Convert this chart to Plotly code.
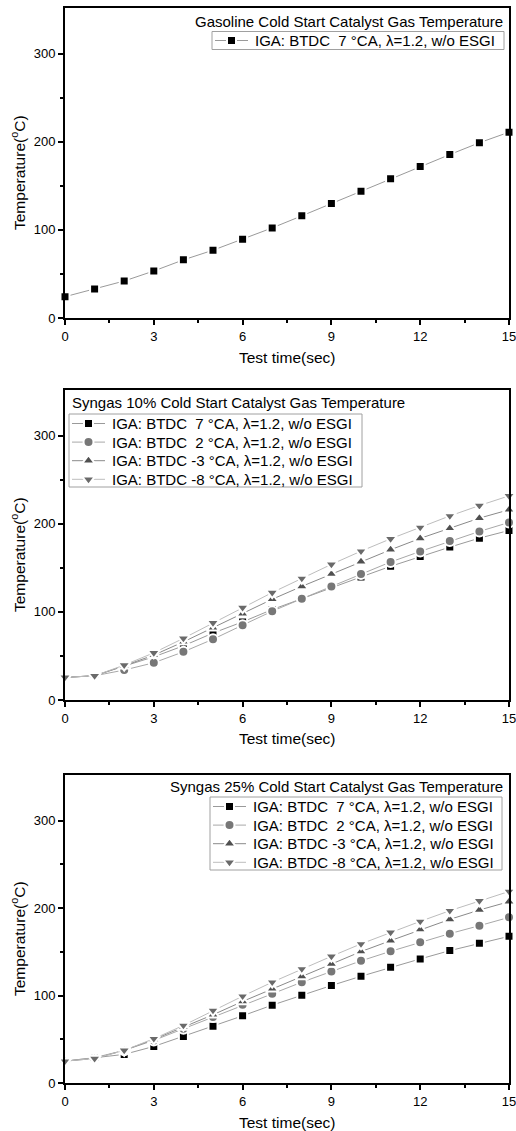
import plotly.graph_objects as go

t = list(range(16))

gas_7 = [24.2, 33, 42, 53.4, 66, 77, 89.4, 102.3, 116, 130, 144, 158, 172, 185.6, 199, 211]

s10_7 = [25.7, 27.5, 38.5, 49, 61.5, 76, 88.7, 102.7, 115, 127.6, 139.7, 151.8, 163, 173.6, 183.8, 192.5]
s10_2 = [25.7, 27.5, 34, 42.3, 54.7, 69, 85, 100.8, 115, 129, 143, 156.7, 168.7, 180.4, 191.4, 201.6]
s10_m3 = [25.7, 27.5, 38.9, 51, 66, 82, 98, 114.4, 129, 143, 157, 170.6, 183.5, 195, 206.5, 216]
s10_m8 = [25.7, 27.5, 39.6, 53.6, 70, 87.6, 105, 122, 138, 154, 169, 183, 196, 209, 220.8, 231.8]

s25_7 = [25, 29, 32.7, 41.8, 53.2, 65, 76.8, 89, 100.4, 111.4, 122, 132.3, 141.8, 151.3, 159.6, 167.6]
s25_2 = [25, 29, 37.3, 48.7, 62, 75.3, 89.4, 102, 115.2, 127.4, 139.6, 150.5, 160.8, 170.7, 179.8, 189.3]
s25_m3 = [25, 28, 37.3, 49.8, 63.9, 78, 93.2, 107.6, 121.7, 136, 150.2, 162.7, 175.3, 187, 197.7, 207.2]
s25_m8 = [25, 28, 37.3, 50.6, 65.8, 82.9, 99.2, 115.2, 130.4, 144.8, 159, 172.2, 184.7, 196.9, 208.3, 218.9]

NB = "\u00a0"
labels = [
    f"IGA: BTDC{NB}{NB}7 °CA, λ=1.2, w/o ESGI",
    f"IGA: BTDC{NB}{NB}2 °CA, λ=1.2, w/o ESGI",
    "IGA: BTDC -3 °CA, λ=1.2, w/o ESGI",
    "IGA: BTDC -8 °CA, λ=1.2, w/o ESGI",
]
titles = [
    "Gasoline Cold Start Catalyst Gas Temperature",
    "Syngas 10% Cold Start Catalyst Gas Temperature",
    "Syngas 25% Cold Start Catalyst Gas Temperature",
]
x_title = "Test time(sec)"
y_title = "Temperature(<sup>o</sup>C)"
x_ticks = [0, 3, 6, 9, 12, 15]
y_ticks = [0, 100, 200, 300]

symbols = ["square", "circle", "triangle-up", "triangle-down"]
mcolors = ["#000000", "#777777", "#505050", "#6a6a6a"]
lcolors = ["#9a9a9a", "#a8a8a8", "#8a8a8a", "#bdbdbd"]
msizes = [9, 10, 11, 11]

W, H = 516, 1131
FONT = "Liberation Sans, Arial, sans-serif"

fig = go.Figure()

panels = [
    dict(series=[gas_7], top=8, bot=318, title=(505, 21.5, "right"),
         box=(212, 504, 31.5, 49.5), row0=40.5),
    dict(series=[s10_7, s10_2, s10_m3, s10_m8], top=390, bot=700, title=(70, 402.5, "left"),
         box=(69, 362, 414, 487), row0=423.5),
    dict(series=[s25_7, s25_2, s25_m3, s25_m8], top=775, bot=1083, title=(505, 786, "right"),
         box=(210, 502, 797, 870), row0=806.5),
]
ROW = 18.6
x0, x1 = 65, 509

# pixel-coordinate overlay axes for legend keys
fig.layout["xaxis4"] = dict(domain=[0, 1], range=[0, W], visible=False, anchor="y4", fixedrange=True)
fig.layout["yaxis4"] = dict(domain=[0, 1], range=[H, 0], visible=False, anchor="x4", fixedrange=True)

for i, p in enumerate(panels):
    ax = "" if i == 0 else str(i + 1)
    top, bot = p["top"], p["bot"]
    for j, ys in enumerate(p["series"]):
        fig.add_trace(go.Scatter(
            x=t, y=ys, mode="lines+markers", name=labels[j],
            line=dict(color=lcolors[j], width=1),
            marker=dict(symbol=symbols[j], size=msizes[j], color=mcolors[j],
                        line=dict(color="white", width=2)),
            xaxis="x" + ax, yaxis="y" + ax, cliponaxis=False, showlegend=False,
        ))
    fig.layout["xaxis" + ax] = dict(
        domain=[x0 / W, x1 / W], range=[0, 15], tickvals=x_ticks,
        showline=True, linecolor="black", linewidth=2, mirror=True,
        ticks="outside", ticklen=5, tickwidth=1.5, tickcolor="black",
        minor=dict(tickvals=[1.5, 4.5, 7.5, 10.5, 13.5], ticks="outside", ticklen=3, tickcolor="black"),
        showgrid=False, zeroline=False, anchor="y" + ax, ticklabeloverflow="allow",
        tickfont=dict(size=13, color="black", family=FONT),
    )
    fig.layout["yaxis" + ax] = dict(
        domain=[1 - bot / H, 1 - top / H], range=[0, 352], tickvals=y_ticks,
        showline=True, linecolor="black", linewidth=2, mirror=True,
        ticks="outside", ticklen=5, tickwidth=1.5, tickcolor="black",
        minor=dict(tickvals=[50, 150, 250], ticks="outside", ticklen=3, tickcolor="black"),
        showgrid=False, zeroline=False, anchor="x" + ax, ticklabeloverflow="allow",
        tickfont=dict(size=13, color="black", family=FONT),
    )
    fig.add_annotation(x=287 / W, y=1 - (bot + 39) / H, xref="paper", yref="paper", text=x_title,
                       showarrow=False, xanchor="center", yanchor="middle",
                       font=dict(size=15.5, color="black", family=FONT))
    fig.add_annotation(x=18 / W, y=1 - ((top + bot) / 2 + 10) / H, xref="paper", yref="paper",
                       text=y_title, textangle=-90, showarrow=False, xanchor="center", yanchor="middle",
                       font=dict(size=15.5, color="black", family=FONT))
    tx, ty, tanc = p["title"]
    fig.add_annotation(x=tx / W, y=1 - ty / H, xref="paper", yref="paper", text=titles[i],
                       showarrow=False, xanchor=tanc, yanchor="middle",
                       font=dict(size=15, color="black", family=FONT))
    bx0, bx1, by0, by1 = p["box"]
    fig.add_shape(type="rect", xref="paper", yref="paper",
                  x0=bx0 / W, x1=bx1 / W, y0=1 - by1 / H, y1=1 - by0 / H,
                  line=dict(color="#a0a0a0", width=1), fillcolor="rgba(0,0,0,0)", layer="above")
    for j in range(len(p["series"])):
        ry = p["row0"] + j * ROW
        fig.add_trace(go.Scatter(
            x=[bx0 + 3, bx0 + 36], y=[ry, ry], mode="lines",
            line=dict(color=lcolors[j], width=1), xaxis="x4", yaxis="y4",
            showlegend=False, hoverinfo="skip", cliponaxis=False,
        ))
        fig.add_trace(go.Scatter(
            x=[bx0 + 19.5], y=[ry], mode="markers",
            marker=dict(symbol=symbols[j], size=msizes[j], color=mcolors[j],
                        line=dict(color="white", width=2)),
            xaxis="x4", yaxis="y4", showlegend=False, hoverinfo="skip", cliponaxis=False,
        ))
        fig.add_annotation(x=(bx0 + 41) / W, y=1 - ry / H, xref="paper", yref="paper",
                           text=labels[j], showarrow=False, xanchor="left", yanchor="middle",
                           font=dict(size=15, color="black", family=FONT))

fig.update_layout(
    width=W, height=H, margin=dict(l=0, r=0, t=0, b=0, autoexpand=False),
    paper_bgcolor="white", plot_bgcolor="rgba(0,0,0,0)", showlegend=False,
    font=dict(family=FONT, color="black"),
)
fig.write_html("out.html")
